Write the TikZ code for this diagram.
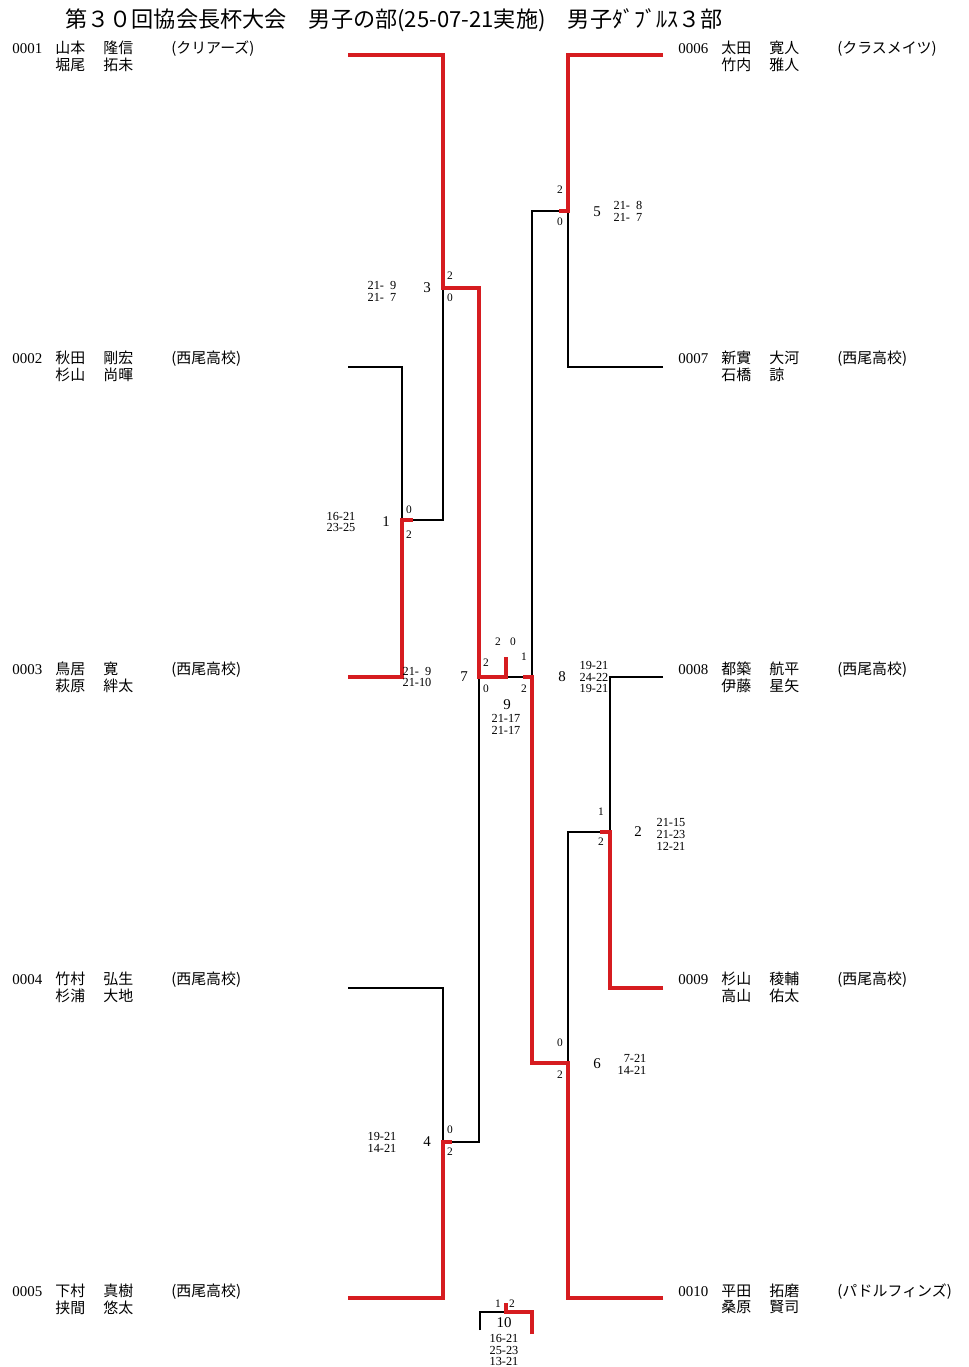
\documentclass[tikz,border=0pt]{standalone}
\usepackage{fontspec}
\setmainfont{Liberation Serif}
\newfontfamily\jp{Noto Sans CJK JP}
\usetikzlibrary{positioning}
\definecolor{winred}{RGB}{214,28,32}

% one pair: number, two names, team
\newcommand{\duo}[6]{%
  \begin{tabular}[t]{@{}p{0.86cm}@{}p{0.96cm}@{}p{1.36cm}@{}l@{}}
    #1 & \jp #2 & \jp #3 & \jp #6\\
       & \jp #4 & \jp #5 &
  \end{tabular}}

\begin{document}
\begin{tikzpicture}[x=0.02cm, y=-0.02cm,
    win/.style={draw=winred, line width=2.3pt},
    lose/.style={draw=black, line width=0.85pt},
    entry/.style={anchor=base west, inner sep=0pt, font=\fontsize{8.5}{9.2}\selectfont},
    mno/.style={inner sep=0pt, font=\fontsize{8.5}{9}\selectfont},
    games/.style={inner sep=0pt, font=\fontsize{6.5}{7}\selectfont},
    score/.style={inner sep=0pt, align=center, font=\fontsize{7}{6.8}\selectfont}]

    \useasboundingbox (0,0) rectangle (968,1367);

    \node[anchor=west, inner sep=0pt, font=\jp\fontsize{12.6}{14}\selectfont] (title) at (65,20)
        {第３０回協会長杯大会　男子の部(25-07-21実施)　男子ﾀﾞﾌﾞﾙｽ３部};

    % pairs, left side
    \node[entry] (t1) at (12,53) {\duo{0001}{山本}{隆信}{堀尾}{拓未}{(クリアーズ)}};
    \node[entry] (t2) at (12,363) {\duo{0002}{秋田}{剛宏}{杉山}{尚暉}{(西尾高校)}};
    \node[entry] (t3) at (12,674) {\duo{0003}{鳥居}{寛}{萩原}{絆太}{(西尾高校)}};
    \node[entry] (t4) at (12,984) {\duo{0004}{竹村}{弘生}{杉浦}{大地}{(西尾高校)}};
    \node[entry] (t5) at (12,1296) {\duo{0005}{下村}{真樹}{挟間}{悠太}{(西尾高校)}};

    % pairs, right side
    \node[entry] (t6) at (678,53) {\duo{0006}{太田}{寛人}{竹内}{雅人}{(クラスメイツ)}};
    \node[entry] (t7) at (678,363) {\duo{0007}{新實}{大河}{石橋}{諒}{(西尾高校)}};
    \node[entry] (t8) at (678,674) {\duo{0008}{都築}{航平}{伊藤}{星矢}{(西尾高校)}};
    \node[entry] (t9) at (678,984) {\duo{0009}{杉山}{稜輔}{高山}{佑太}{(西尾高校)}};
    \node[entry] (t10) at (678,1296) {\duo{0010}{平田}{拓磨}{桑原}{賢司}{(パドルフィンズ)}};

    % line ends of the pairs
    \coordinate (p1) at (348,55);
    \coordinate (p2) at (348,367);
    \coordinate (p3) at (348,677);
    \coordinate (p4) at (348,988);
    \coordinate (p5) at (348,1298);
    \coordinate (p6) at (663,55);
    \coordinate (p7) at (663,367);
    \coordinate (p8) at (663,677);
    \coordinate (p9) at (663,988);
    \coordinate (p10) at (663,1298);

    % match points
    \coordinate (m1) at (402,520);
    \coordinate (m2) at (610,832);
    \coordinate (m3) at (443,288);
    \coordinate (m4) at (443,1142);
    \coordinate (m5) at (568,211);
    \coordinate (m6) at (568,1063);
    \coordinate (m7) at (479,677);
    \coordinate (m8) at (532,677);
    \coordinate (m9) at (506,677);
    \coordinate (m10) at (506,1312);
    \coordinate (q1) at (480,1330);
    \coordinate (q2) at (532,1334);

    % losers
    \draw[lose] (p2) -| (m1);
    \draw[lose] (m1) -| (m3);
    \draw[lose] (p4) -| (m4);
    \draw[lose] (m4) -| (m7);
    \draw[lose] (p7) -| (m5);
    \draw[lose] (m5) -| (m8);
    \draw[lose] (p8) -| (m2);
    \draw[lose] (m2) -| (m6);
    \draw[lose] (m8) -- (m9);
    \draw[lose] (q1) |- (m10);

    % winners
    \draw[win] (p1) -| (m3) -| (m7) -- (m9) -- ++(0,-20);
    \draw[win] (p3) -| (m1) -- ++(11,0);
    \draw[win] (p5) -| (m4) -- ++(9,0);
    \draw[win] (p6) -| (m5) -- ++(-9,0);
    \draw[win] (p9) -| (m2) -- ++(-10,0);
    \draw[win] (p10) -| (m6) -| (m8) -- ++(-9,0);
    \draw[win] (q2) |- (m10) -- ++(0,-9);

    % match 1
    \node[mno] (n1) at (386,522) {1};
    \node[games] (g1a) at (409,510) {0};
    \node[games] (g1b) at (409,535) {2};
    \node[score] (s1) at (341,522) {16-21\\23-25};
    % match 3
    \node[mno] (n3) at (427,288) {3};
    \node[games] (g3a) at (450,276) {2};
    \node[games] (g3b) at (450,298) {0};
    \node[score] (s3) at (382,291) {21-\hphantom{0}9\\21-\hphantom{0}7};
    % match 4
    \node[mno] (n4) at (427,1142) {4};
    \node[games] (g4a) at (450,1130) {0};
    \node[games] (g4b) at (450,1152) {2};
    \node[score] (s4) at (382,1142) {19-21\\14-21};
    % match 7
    \node[mno] (n7) at (464,677) {7};
    \node[games] (g7a) at (486,663) {2};
    \node[games] (g7b) at (486,689) {0};
    \node[score] (s7) at (417,677) {21-\hphantom{0}9\\21-10};
    % match 9
    \node[mno] (n9) at (507,705) {9};
    \node[games] (g9a) at (498,642) {2};
    \node[games] (g9b) at (513,642) {0};
    \node[score] (s9) at (506,724) {21-17\\21-17};
    % match 8
    \node[mno] (n8) at (562,677) {8};
    \node[games] (g8a) at (524,657) {1};
    \node[games] (g8b) at (524,689) {2};
    \node[score] (s8) at (594,677) {19-21\\24-22\\19-21};
    % match 5
    \node[mno] (n5) at (597,212) {5};
    \node[games] (g5a) at (560,190) {2};
    \node[games] (g5b) at (560,222) {0};
    \node[score] (s5) at (628,211) {21-\hphantom{0}8\\21-\hphantom{0}7};
    % match 2
    \node[mno] (n2) at (638,832) {2};
    \node[games] (g2a) at (601,812) {1};
    \node[games] (g2b) at (601,842) {2};
    \node[score] (s2) at (671,834) {21-15\\21-23\\12-21};
    % match 6
    \node[mno] (n6) at (597,1064) {6};
    \node[games] (g6a) at (560,1043) {0};
    \node[games] (g6b) at (560,1075) {2};
    \node[score] (s6) at (632,1064) {\hphantom{1}7-21\\14-21};
    % match 10
    \node[mno] (n10) at (504,1323) {10};
    \node[games] (g10a) at (498,1304) {1};
    \node[games] (g10b) at (512,1304) {2};
    \node[score] (s10) at (504,1350) {16-21\\25-23\\13-21};

\end{tikzpicture}
\end{document}
